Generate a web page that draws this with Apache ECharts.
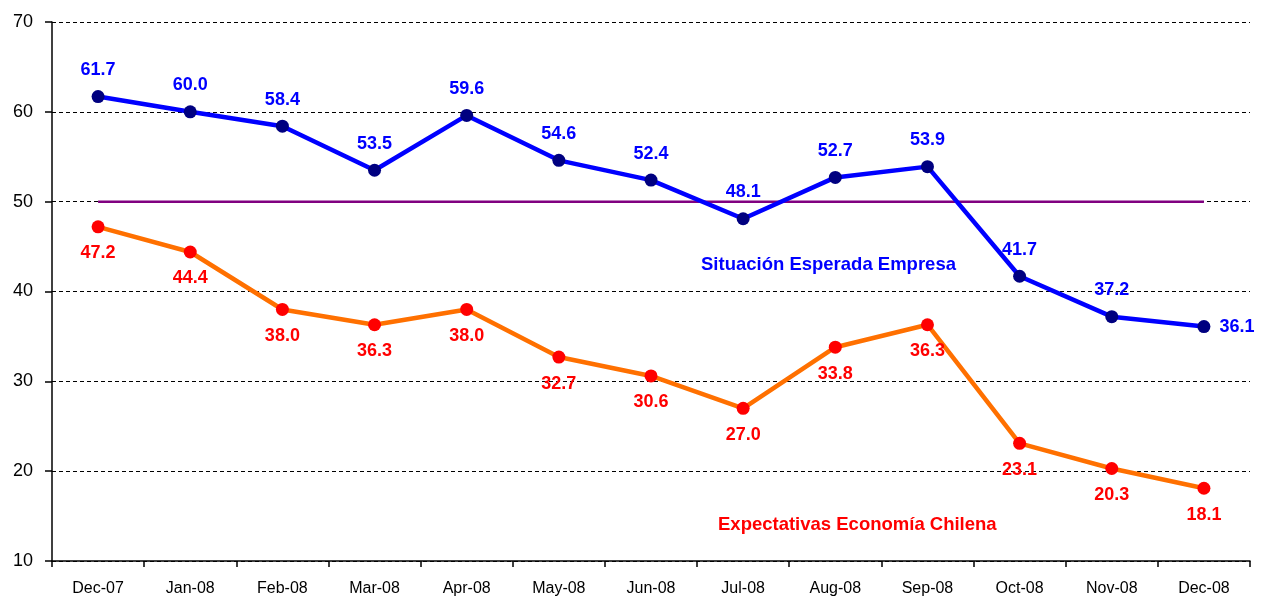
<!DOCTYPE html>
<html><head><meta charset="utf-8">
<script src="https://cdn.jsdelivr.net/npm/echarts@6/dist/echarts.min.js"></script>
<style>html,body{margin:0;padding:0;background:#fff}#c{width:1278px;height:599px}</style>
</head><body><div id="c"></div>
<script>
const categories = ['Dec-07','Jan-08','Feb-08','Mar-08','Apr-08','May-08','Jun-08','Jul-08','Aug-08','Sep-08','Oct-08','Nov-08','Dec-08'];
const empresa = [61.7, 60.0, 58.4, 53.5, 59.6, 54.6, 52.4, 48.1, 52.7, 53.9, 41.7, 37.2, 36.1];
const economia = [47.2, 44.4, 38.0, 36.3, 38.0, 32.7, 30.6, 27.0, 33.8, 36.3, 23.1, 20.3, 18.1];
const neutral = [50, 50, 50, 50, 50, 50, 50, 50, 50, 50, 50, 50, 50];
const yTicks = [10, 20, 30, 40, 50, 60, 70];

const font = 'Liberation Sans, Arial, sans-serif';
const chart = echarts.init(document.getElementById('c'), null, {renderer: 'canvas'});
const lblFmt = p => p.value.toFixed(1);
chart.setOption({
  animation: false,
  grid: {left: 52, right: 28, top: 22, bottom: 38},
  xAxis: {
    type: 'category', data: categories, boundaryGap: true,
    axisLine: {lineStyle: {color: '#000', width: 1.5}},
    axisTick: {show: true, length: 6, lineStyle: {color: '#000', width: 1.5}},
    axisLabel: {color: '#000', fontSize: 16, fontFamily: font, margin: 20}
  },
  yAxis: {
    type: 'value', min: yTicks[0], max: yTicks[yTicks.length-1], interval: 10,
    axisLine: {show: true, lineStyle: {color: '#000', width: 1.5}},
    axisTick: {show: true, length: 7, lineStyle: {color: '#000', width: 1.5}},
    axisLabel: {color: '#000', fontSize: 18, fontFamily: font, margin: 19},
    splitLine: {lineStyle: {color: '#000', type: [4, 3], width: 1}}
  },
  series: [
    {
      type: 'line', data: neutral, symbol: 'none', silent: true,
      lineStyle: {color: '#800080', width: 2.5}, z: 1
    },
    {
      name: 'Situación Esperada Empresa', type: 'line',
      data: empresa.map((v, i) => i === empresa.length - 1
        ? {value: v, label: {position: 'right', distance: 9}}
        : {value: v}),
      symbol: 'circle', symbolSize: 13,
      itemStyle: {color: '#000080'},
      lineStyle: {color: '#0000FF', width: 4.5},
      label: {show: true, position: 'top', distance: 11, color: '#0000FF', fontWeight: 'bold', fontSize: 18, fontFamily: font, formatter: lblFmt},
      z: 3
    },
    {
      name: 'Expectativas Economía Chilena', type: 'line',
      data: economia,
      symbol: 'circle', symbolSize: 13,
      itemStyle: {color: '#FF0000'},
      lineStyle: {color: '#FF7000', width: 4.5},
      label: {show: true, position: 'bottom', distance: 11, color: '#FF0000', fontWeight: 'bold', fontSize: 18, fontFamily: font, formatter: lblFmt},
      z: 3
    }
  ],
  graphic: [
    {type: 'text', left: 701, top: 255, style: {text: 'Situación Esperada Empresa', fill: '#0000FF', font: 'bold 18.5px ' + font}},
    {type: 'text', left: 718, top: 515, style: {text: 'Expectativas Economía Chilena', fill: '#FF0000', font: 'bold 18.5px ' + font}}
  ]
});
</script></body></html>
